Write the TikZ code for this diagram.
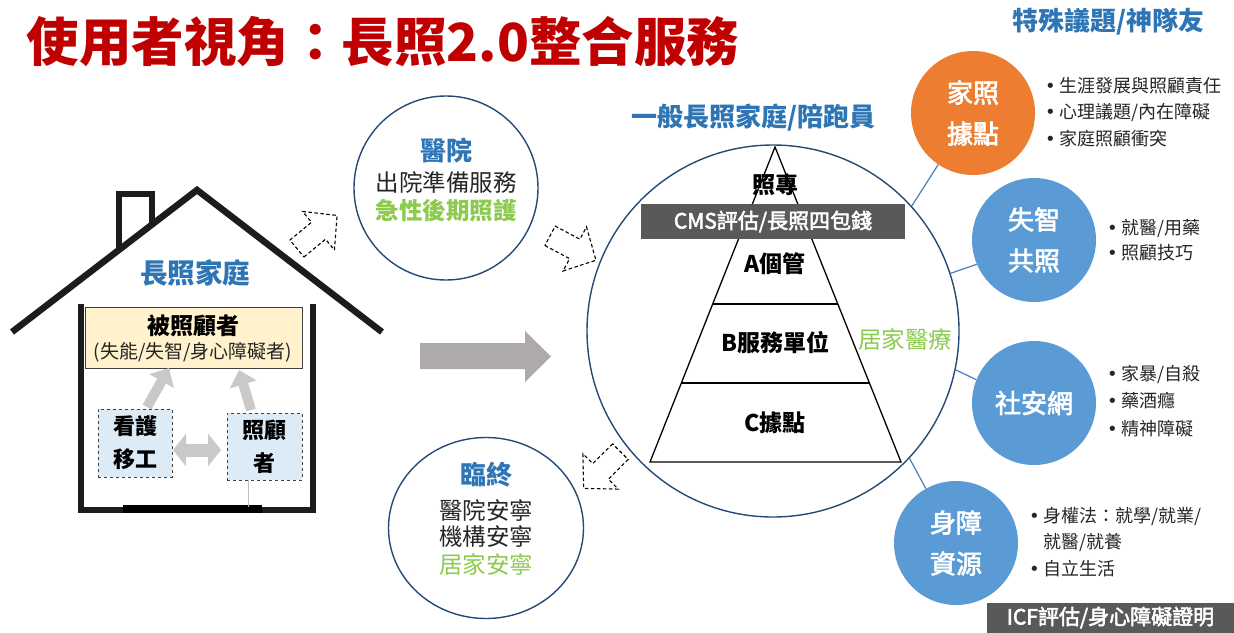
\documentclass[tikz,border=0pt]{standalone}
\usepackage{fontspec}
\setmainfont{Noto Sans CJK TC}
\newfontfamily\medfont{Noto Sans CJK TC}[FakeBold=2.5]
\newfontfamily\dotfont{DejaVu Sans}
\usetikzlibrary{arrows.meta,calc,shapes.geometric}

\definecolor{titlered}{HTML}{C00000}
\definecolor{headblue}{HTML}{2E75B6}
\definecolor{leafgreen}{HTML}{8DCB4E}
\definecolor{ringblue}{HTML}{254A75}
\definecolor{linkblue}{HTML}{4A7EBB}
\definecolor{bubbleblue}{HTML}{5B9BD5}
\definecolor{bubbleorange}{HTML}{ED7D31}
\definecolor{boxgray}{HTML}{595959}
\definecolor{notefill}{HTML}{FFF2CC}
\definecolor{workerfill}{HTML}{DDEBF7}
\definecolor{wallgray}{HTML}{1C1C1C}
\definecolor{softgray}{HTML}{C9C9C9}
\definecolor{bigarrow}{HTML}{AEAAAA}
\definecolor{bodytext}{HTML}{262626}

% dashed hollow block arrow: centre x, centre y, direction (degrees)
\newcommand\hollowarrow[3]{%
  \draw[dashed, dash pattern=on 3.5pt off 2.5pt, line width=1.1pt, line join=miter,
        shift={(#1,#2)}, rotate=#3]
    (-26pt,-11pt) -- (2pt,-11pt) -- (2pt,-25pt) -- (26pt,0pt)
    -- (2pt,25pt) -- (2pt,11pt) -- (-26pt,11pt) -- cycle;}
\newcommand\bu{{\dotfont •}\hspace{4pt}}

\begin{document}
\begin{tikzpicture}[x=1pt,y=-1pt,
  ring/.style={draw=ringblue, line width=1.4pt, inner sep=0pt},
  bubble/.style={circle, inner sep=0pt, minimum size=124pt, text=white,
    font=\medfont\fontsize{26}{41}\selectfont, align=center},
  bullets/.style={anchor=west, align=left, inner sep=0pt, text=bodytext,
    font=\fontsize{18}{26.5}\selectfont},
  darkbox/.style={fill=boxgray, text=white, inner sep=0pt,
    font=\medfont\fontsize{21}{21}\selectfont},
  tier/.style={font=\bfseries\fontsize{23}{23}\selectfont, inner sep=0pt},
  wall/.style={draw=wallgray, line width=6.5pt},
  link/.style={draw=linkblue, line width=1.2pt},
  housearrow/.style={draw=softgray, line width=10pt,
    -{Triangle[width=27pt,length=15pt]}},
  plain/.style={inner sep=0pt, text=bodytext, font=\fontsize{23.5}{23.5}\selectfont},
  heading/.style={inner sep=0pt, text=headblue, font=\bfseries\fontsize{26}{26}\selectfont}
]
\useasboundingbox (0,0) rectangle (1234,632);
\fill[white] (0,0) rectangle (1234,632);

% ---------- title ----------
\node[inner sep=0pt, text=titlered, font=\bfseries\fontsize{52.5}{52.5}\selectfont]
  (title) at (383,42) {使用者視角：長照2.0整合服務};
\node[heading] (special) at (1108,22) {特殊議題/神隊友};

% ---------- house ----------
\draw[wall, line join=miter] (12,332) -- (197,190) -- (382,332);
\draw[wall, line join=miter] (119,250) -- (119,194) -- (152,194) -- (152,225);
\draw[wall] (81,304) -- (81,513);
\draw[wall] (313,304) -- (313,513);
\draw[wall] (78,510) -- (316,510);
\draw[black, line width=7.5pt] (123,509) -- (262,509);
\draw[black!25, line width=0.6pt] (248,480) -- (248,507);

\node[heading, font=\bfseries\fontsize{27.5}{27.5}\selectfont] (family) at (195,273) {長照家庭};

\node[draw=black!75, line width=0.9pt, fill=notefill, minimum width=217pt,
      minimum height=61pt, inner sep=0pt] (care) at (193.5,337.5) {};
\node[tier, font=\bfseries\fontsize{23}{23}\selectfont] (careT) at (193,326) {被照顧者};
\node[inner sep=0pt, text=bodytext, font=\fontsize{19}{19}\selectfont]
  (careS) at (193,352) {(失能/失智/身心障礙者)};

\node[draw=black!75, dashed, line width=0.9pt, fill=workerfill, minimum width=74pt,
      minimum height=68pt, inner sep=0pt, align=center,
      font=\bfseries\fontsize{22}{33}\selectfont] (nurse) at (135,443) {看護\\移工};
\node[draw=black!75, dashed, line width=0.9pt, fill=workerfill, minimum width=75pt,
      minimum height=67pt, inner sep=0pt, align=center,
      font=\bfseries\fontsize{22}{33}\selectfont] (carer) at (264.5,446.5) {照顧\\者};

\coordinate (nurseUp) at (147,407);
\coordinate (careL) at (169,368);
\coordinate (carerUp) at (251,410);
\coordinate (careR) at (239,370);
\draw[housearrow] (nurseUp) -- (careL);
\draw[housearrow] (carerUp) -- (careR);
\coordinate (swapL) at (173,450);
\coordinate (swapR) at (221,450);
\draw[draw=softgray, line width=13pt,
      {Triangle[width=32pt,length=13pt]}-{Triangle[width=32pt,length=13pt]}]
  (swapL) -- (swapR);

% ---------- hospital ----------
\node[ring, circle, minimum size=184pt] (hosp) at (446,188) {};
\node[heading] (hospT) at (446,150) {醫院};
\node[plain] (hospA) at (446,183) {出院準備服務};
\node[plain, text=leafgreen, font=\bfseries\fontsize{23.5}{23.5}\selectfont]
  (hospB) at (446,211) {急性後期照護};

% ---------- end of life ----------
\node[ring, ellipse, minimum width=195pt, minimum height=181pt] (eol) at (486,528) {};
\node[heading] (eolT) at (486,475) {臨終};
\node[plain] (eolA) at (486,510) {醫院安寧};
\node[plain] (eolB) at (486,537) {機構安寧};
\node[plain, text=leafgreen] (eolC) at (486,565) {居家安寧};

% ---------- flow arrows ----------
\hollowarrow{317}{232}{39.5}
\hollowarrow{573}{248}{-28}
\hollowarrow{602}{470}{-135}
\fill[bigarrow] (420,343) -- (525,343) -- (525,331) -- (551,356.5)
  -- (525,382) -- (525,369) -- (420,369) -- cycle;

% ---------- long-term care pyramid ----------
\node[heading] (general) at (753,118) {一般長照家庭/陪跑員};
\node[ring, circle, minimum size=372pt] (big) at (773,331) {};
\coordinate (apex) at (775,147);
\coordinate (baseL) at (650,462);
\coordinate (baseR) at (901,462);
\draw[line width=1.3pt, line join=miter] (apex) -- (baseR) -- (baseL) -- cycle;
\draw[line width=1.3pt] ($(apex)!0.4984!(baseL)$) -- ($(apex)!0.4984!(baseR)$);
\draw[line width=1.3pt] ($(apex)!0.7492!(baseL)$) -- ($(apex)!0.7492!(baseR)$);
\node[darkbox, minimum width=264pt, minimum height=35pt] (cms) at (773,221.5)
  {CMS評估/長照四包錢};
\node[tier] (expert) at (775,185) {照專};
\node[tier] (tierA) at (775,264) {A個管};
\node[tier] (tierB) at (775,343) {B服務單位};
\node[tier] (tierC) at (775,423) {C據點};
\node[plain, text=leafgreen] (homemed) at (905,339) {居家醫療};

% ---------- partner resources ----------
\node[bubble, fill=bubbleorange] (jz) at (973,113) {家照\\據點};
\node[bubble, fill=bubbleblue] (sz) at (1034,240) {失智\\共照};
\node[bubble, fill=bubbleblue] (san) at (1034,403) {社安網};
\node[bubble, fill=bubbleblue] (sr) at (956,543) {身障\\資源};

\draw[link] (jz.236) -- (big.42);
\draw[link] (sz.203) -- (big.18);
\draw[link] (san.158) -- (big.-12);
\draw[link] (sr.119) -- (big.-43);

\node[bullets] (jzList) at (1045,112)
  {\bu 生涯發展與照顧責任\\\bu 心理議題/內在障礙\\\bu 家庭照顧衝突};
\node[bullets, font=\fontsize{18}{25}\selectfont] (szList) at (1107,240.5)
  {\bu 就醫/用藥\\\bu 照顧技巧};
\node[bullets, font=\fontsize{18}{27.5}\selectfont] (sanList) at (1107,401)
  {\bu 家暴/自殺\\\bu 藥酒癮\\\bu 精神障礙};
\node[bullets] (srList) at (1029,542)
  {\bu 身權法：就學/就業/\\\hphantom{\bu}就醫/就養\\\bu 自立生活};

\node[darkbox, minimum width=247pt, minimum height=30pt] (icf) at (1110.5,617.5)
  {ICF評估/身心障礙證明};
\end{tikzpicture}
\end{document}
